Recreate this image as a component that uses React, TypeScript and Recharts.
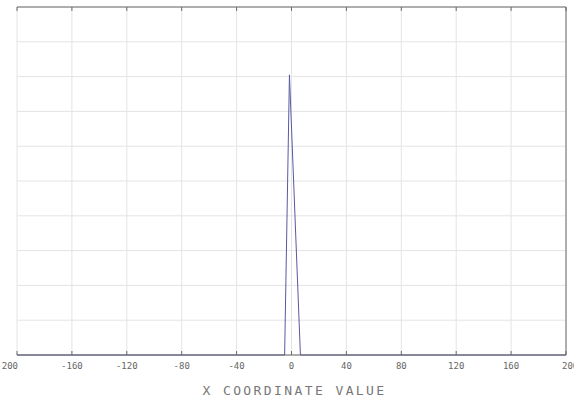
import { LineChart, Line, XAxis, YAxis, CartesianGrid, ReferenceLine } from "recharts";

// x positions of the trace and its values (normalised to the grid)
const xValues = [-200, -5, -1.5, 6.5, 200];
const yValues = [0, 0, 0.805, 0, 0];

const xTicks = [-200, -160, -120, -80, -40, 0, 40, 80, 120, 160, 200];
const xTickLabels = ["200", "-160", "-120", "-80", "-40", "0", "40", "80", "120", "160", "200"];
const yTicks = [0, 0.1, 0.2, 0.3, 0.4, 0.5, 0.6, 0.7, 0.8, 0.9, 1];

const data = xValues.map((x, i) => ({ x, y: yValues[i] }));

const W = 574;
const H = 403;
const M = { top: 7, right: 8, left: 17, bottom: 0 };
const X_AXIS_H = 48;
const PLOT_TOP = M.top;
const PLOT_RIGHT = W - M.right;

const FRAME = "#6a6a6a";
const GRID = "#e4e4e4";
const TRACE = "#5858a4";
const MONO = "'DejaVu Sans Mono', 'Liberation Mono', monospace";

// bottom label plus inward tick marks on bottom and top frame
function XTick(props: any) {
  const { x, y, index } = props;
  const n = xTicks.length;
  let anchor: "middle" | "end" | "start" = "middle";
  let tx = x;
  if (index === 0) { anchor = "end"; tx = x + 1; }
  if (index === n - 1) { anchor = "start"; tx = x - 4; }
  return (
    <g>
      <line x1={x} x2={x} y1={y} y2={y - 4} stroke={FRAME} strokeWidth={1} />
      <line x1={x} x2={x} y1={PLOT_TOP} y2={PLOT_TOP + 4} stroke={FRAME} strokeWidth={1} />
      <text x={tx} y={y + 14} textAnchor={anchor} fontSize={9} fontFamily={MONO} fill="#666">
        {xTickLabels[index]}
      </text>
    </g>
  );
}

// inward tick marks on left and right frame, no labels
function YTick(props: any) {
  const { y, index } = props;
  if (index === 0 || index === yTicks.length - 1) return <g />;
  return (
    <g>
      <line x1={M.left} x2={M.left + 4} y1={y} y2={y} stroke={FRAME} strokeWidth={1} />
      <line x1={PLOT_RIGHT} x2={PLOT_RIGHT - 4} y1={y} y2={y} stroke={FRAME} strokeWidth={1} />
    </g>
  );
}

export default function App() {
  return (
    <div style={{ position: "absolute", left: 0, top: 0, background: "#fff" }}>
      <LineChart width={W} height={H} data={data} margin={M}>
        <CartesianGrid stroke={GRID} strokeWidth={1} horizontalValues={yTicks} verticalValues={xTicks} />
        <XAxis
          dataKey="x"
          type="number"
          domain={[-200, 200]}
          ticks={xTicks}
          interval={0}
          height={X_AXIS_H}
          tickSize={0}
          tickMargin={0}
          tickLine={false}
          axisLine={{ stroke: FRAME }}
          tick={XTick}
          label={{
            value: "X COORDINATE VALUE",
            position: "insideBottom",
            offset: 8,
            dx: 3,
            fontSize: 13,
            fontFamily: MONO,
            fill: "#777",
            style: { letterSpacing: "2.4px" },
          }}
        />
        <YAxis
          type="number"
          domain={[0, 1]}
          ticks={yTicks}
          interval={0}
          width={0}
          tickSize={0}
          tickMargin={0}
          tickLine={false}
          axisLine={{ stroke: FRAME }}
          tick={YTick}
        />
        <ReferenceLine x={200} stroke={FRAME} strokeWidth={1} ifOverflow="visible" />
        <ReferenceLine y={1} stroke={FRAME} strokeWidth={1} ifOverflow="visible" />
        <Line
          type="linear"
          dataKey="y"
          stroke={TRACE}
          strokeWidth={1}
          dot={false}
          isAnimationActive={false}
        />
      </LineChart>
    </div>
  );
}
